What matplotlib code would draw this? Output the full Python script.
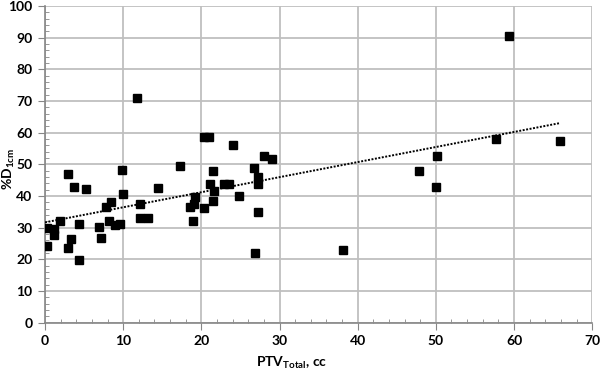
import matplotlib
matplotlib.use('Agg')
import matplotlib.pyplot as plt
import numpy as np

# PTV total volume (cc) and %D1cm
ptv = [0.2, 0.3, 1.1, 1.2, 1.9, 2.9, 2.9, 3.3, 3.7, 4.3, 4.4, 5.3, 6.9, 7.1, 7.8,
       8.4, 8.2, 9.0, 9.6, 9.8, 10.0, 11.8, 12.2, 12.2, 13.2, 14.5, 17.3, 18.5,
       18.9, 19.1, 19.2, 20.4, 21.0, 24.0, 28.0, 29.0, 21.5, 26.8, 27.2, 27.3,
       21.1, 21.6, 22.9, 23.6, 24.8, 21.5, 20.4, 27.2, 26.9,
       59.4, 57.7, 65.9, 50.2, 47.8, 50.0, 38.1]
d1cm = [24.2, 30.0, 29.5, 27.6, 32.0, 47.0, 23.6, 26.3, 42.8, 19.7, 31.3, 42.2,
        30.3, 26.6, 36.5, 38.0, 32.1, 30.8, 31.3, 48.2, 40.7, 70.9, 37.5, 33.0,
        33.0, 42.5, 49.5, 36.6, 32.1, 37.6, 39.6, 58.5, 58.5, 56.2, 52.5, 51.7,
        48.0, 48.7, 45.9, 43.7, 43.8, 41.7, 43.8, 43.8, 40.1, 38.4, 36.2, 35.0,
        22.0, 90.5, 57.9, 57.4, 52.5, 47.8, 43.0, 22.9]

x_ticks = [0, 10, 20, 30, 40, 50, 60, 70]
y_ticks = [0, 10, 20, 30, 40, 50, 60, 70, 80, 90, 100]

plt.rcParams['font.family'] = ['Lato', 'DejaVu Sans']
plt.rcParams['font.weight'] = 'bold'
plt.rcParams['mathtext.fontset'] = 'custom'
plt.rcParams['mathtext.rm'] = 'Lato:bold'
plt.rcParams['mathtext.bf'] = 'Lato:bold'

fig = plt.figure(figsize=(6, 3.71), dpi=100)
ax = fig.add_axes([0.075, 0.13, 0.912, 0.854])

# linear trend line
x = np.array(ptv)
y = np.array(d1cm)
slope, icpt = np.polyfit(x, y, 1)
xt = np.array([0, x.max()])
ax.plot(xt, slope*xt + icpt, color='black', linestyle=(0, (1, 0.8)), linewidth=1.4, zorder=3)

ax.plot(ptv, d1cm, linestyle='none', marker='s', markersize=5.3, color='black', zorder=4)

ax.set_xlim(0, 70)
ax.set_ylim(0, 100)
ax.set_xticks(x_ticks)
ax.set_yticks(y_ticks)
ax.set_xticks(np.arange(0, 71, 2), minor=True)
ax.set_yticks(np.arange(0, 101, 2), minor=True)
ax.grid(True, which='major', color='#bfbfbf', linewidth=1.3)
ax.set_axisbelow(True)
for s in ['top', 'right']:
    ax.spines[s].set_visible(False)
for s in ['left', 'bottom']:
    ax.spines[s].set_color('#868686')
    ax.spines[s].set_linewidth(1.2)
ax.tick_params(which='major', direction='out', length=5, color='#868686', labelsize=10, pad=4)
ax.tick_params(which='minor', direction='in', length=3, color='#868686')

fig.text(0.014, 0.545, '%D$_{\\mathrm{1cm}}$', rotation=90, ha='center', va='center',
         fontsize=10, fontweight='bold')
ax.set_xlabel('PTV$_{\\mathrm{Total}}$, cc', fontsize=10, fontweight='bold')
ax.xaxis.set_label_coords(0.45, -0.1)

fig.savefig('out.png', dpi=100)
